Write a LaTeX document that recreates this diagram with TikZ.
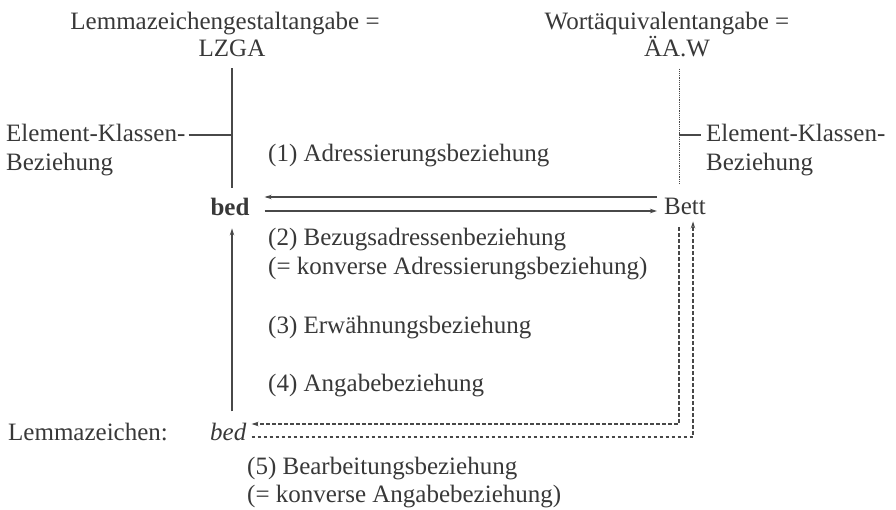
\documentclass[tikz,border=0pt]{standalone}
\usepackage{fontspec}
\setmainfont{Liberation Serif}
\usepackage{tikz}
\usetikzlibrary{calc,arrows.meta}
\definecolor{ink}{HTML}{383838}
\definecolor{rule}{HTML}{484848}
\tikzset{
  lab/.style={text=ink, font=\fontsize{25}{30}\selectfont, inner sep=0pt},
  plainline/.style={draw=rule, line width=1.1pt},
  dashline/.style={draw=rule, line width=1.1pt, dash pattern=on 3.5pt off 2.5pt},
  dotline/.style={draw=rule, line width=1pt, dash pattern=on 1.2pt off 1pt},
  tip/.style={-{Stealth[length=7pt,width=4.5pt]}},
}

\begin{document}
\begin{tikzpicture}[x=1pt,y=-1pt]
  \useasboundingbox (0,0) rectangle (896,510);

  % Kopf
  \node[lab,anchor=base] (lzgaTop) at (225,30) {Lemmazeichengestaltangabe =};
  \node[lab,anchor=base] (lzga) at (232,57) {LZGA};
  \node[lab,anchor=base] (aawTop) at (667,30) {Wortäquivalentangabe =};
  \node[lab,anchor=base] (aaw) at (677,57) {ÄA.W};

  \node[lab,anchor=base west] (ekLeftA) at (6,142) {Element-Klassen-};
  \node[lab,anchor=base west] (ekLeftB) at (6,171) {Beziehung};
  \node[lab,anchor=base west] (ekRightA) at (706,142) {Element-Klassen-};
  \node[lab,anchor=base west] (ekRightB) at (706,171) {Beziehung};

  \node[lab,anchor=base] (bedB) at (230,216) {\bfseries bed};
  \node[lab,anchor=base west] (bett) at (664,215) {Bett};
  \node[lab,anchor=base west] (lemma) at (8,440) {Lemmazeichen:};
  \node[lab,anchor=base west] (bedI) at (210,440) {\itshape bed};

  % Beziehungen
  \node[lab,anchor=base west] (rel1) at (268,162) {(1) Adressierungsbeziehung};
  \node[lab,anchor=base west] (rel2a) at (268,246) {(2) Bezugsadressenbeziehung};
  \node[lab,anchor=base west] (rel2b) at (268,275) {(= konverse Adressierungsbeziehung)};
  \node[lab,anchor=base west] (rel3) at (268,334) {(3) Erwähnungsbeziehung};
  \node[lab,anchor=base west] (rel4) at (268,391) {(4) Angabebeziehung};
  \node[lab,anchor=base west] (rel5a) at (247,474) {(5) Bearbeitungsbeziehung};
  \node[lab,anchor=base west] (rel5b) at (247,502) {(= konverse Angabebeziehung)};

  \coordinate (lJoin) at (232,135);
  \coordinate (rJoin) at (679,135);
  \coordinate (rOut) at (693,0);
  \coordinate (upY) at (0,197);
  \coordinate (loY) at (0,211);
  \coordinate (dA) at (0,424);
  \coordinate (dB) at (0,437);

  % Element-Klassen-Beziehungen
  \draw[plainline,shorten <=11pt,shorten >=10pt] (lzga.south) -- (lzga.south |- bedB.north);
  \draw[plainline] ([xshift=3pt]ekLeftA.east |- lJoin) -- (lJoin);
  \draw[dotline,shorten <=11pt,shorten >=14pt] (aaw.south -| rJoin) -- (rJoin |- bett.north);
  \draw[plainline] (rJoin) -- ([xshift=-5pt]ekRightA.west |- rJoin);

  % (1) und (2)
  \draw[plainline,tip] ([xshift=-7pt]bett.west |- upY) -- ([xshift=15pt]bedB.east |- upY);
  \draw[plainline,tip] ([xshift=15pt]bedB.east |- loY) -- ([xshift=-7pt]bett.west |- loY);

  % (3)
  \draw[plainline,tip,shorten <=11pt,shorten >=12pt] (lzga.south |- bedI.north) -- (lzga.south |- bedB.south);

  % (4) und (5)
  \draw[dashline,tip] ([yshift=-12pt]rJoin |- bett.south) |- ([xshift=5pt]bedI.east |- dA);
  \draw[dashline,tip] ([xshift=5pt]bedI.east |- dB) -| ([yshift=-6pt]rOut |- bett.south);
\end{tikzpicture}
\end{document}
